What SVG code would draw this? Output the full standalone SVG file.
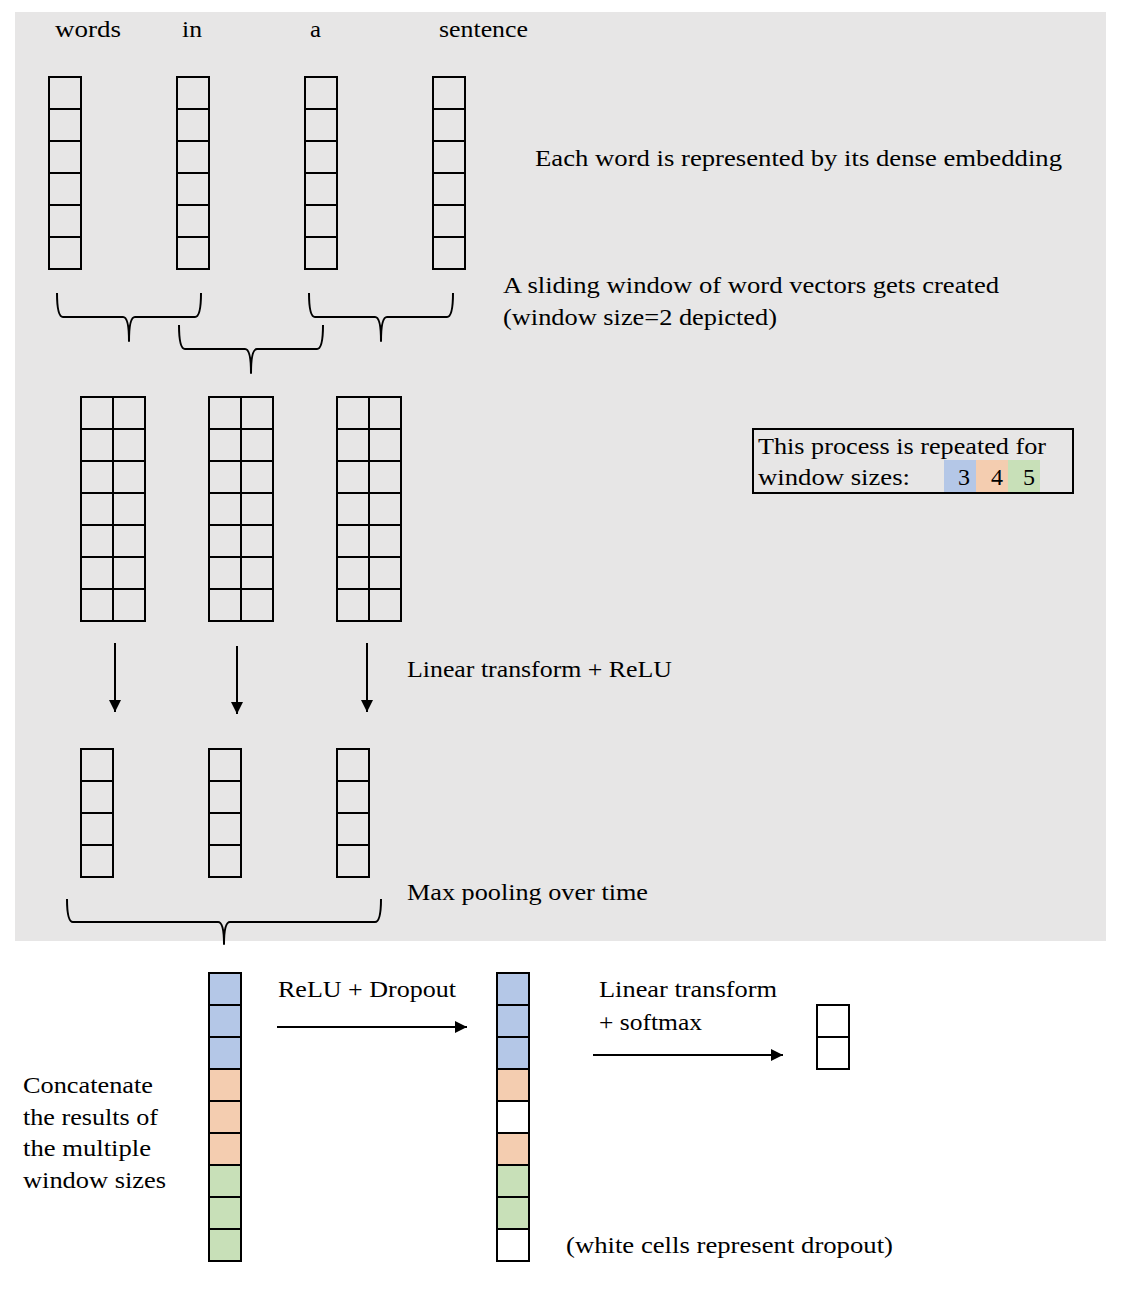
<svg xmlns="http://www.w3.org/2000/svg" width="1122" height="1304" viewBox="0 0 1122 1304">
<defs>
<style>
.t{font-family:"Liberation Serif","DejaVu Serif",serif;font-size:24px;fill:#000}
.c{fill:none;stroke:#000;stroke-width:2}
.b{fill:#b4c7e7;stroke:#000;stroke-width:2}
.o{fill:#f4cdb0;stroke:#000;stroke-width:2}
.g{fill:#c8e0b8;stroke:#000;stroke-width:2}
.w{fill:#fff;stroke:#000;stroke-width:2}
.br{fill:none;stroke:#000;stroke-width:2;stroke-linejoin:round}
.ar{fill:none;stroke:#000;stroke-width:2}
</style>
<marker id="ah" markerWidth="12" markerHeight="12" refX="12" refY="6" orient="auto" markerUnits="userSpaceOnUse">
<path d="M0,0 L12,6 L0,12 Z" fill="#000"/>
</marker>
<g id="col6">
<rect class="c" x="0" y="0" width="32" height="32"/>
<rect class="c" x="0" y="32" width="32" height="32"/>
<rect class="c" x="0" y="64" width="32" height="32"/>
<rect class="c" x="0" y="96" width="32" height="32"/>
<rect class="c" x="0" y="128" width="32" height="32"/>
<rect class="c" x="0" y="160" width="32" height="32"/>
</g>
<g id="col7">
<rect class="c" x="0" y="0" width="32" height="32"/>
<rect class="c" x="0" y="32" width="32" height="32"/>
<rect class="c" x="0" y="64" width="32" height="32"/>
<rect class="c" x="0" y="96" width="32" height="32"/>
<rect class="c" x="0" y="128" width="32" height="32"/>
<rect class="c" x="0" y="160" width="32" height="32"/>
<rect class="c" x="0" y="192" width="32" height="32"/>
</g>
<g id="col4">
<rect class="c" x="0" y="0" width="32" height="32"/>
<rect class="c" x="0" y="32" width="32" height="32"/>
<rect class="c" x="0" y="64" width="32" height="32"/>
<rect class="c" x="0" y="96" width="32" height="32"/>
</g>
</defs>

<rect id="background" x="15" y="12" width="1091" height="929" fill="#e7e6e6"/>

<g id="words">
<text class="t" x="55" y="37" textLength="66" lengthAdjust="spacingAndGlyphs">words</text>
<text class="t" x="182" y="37" textLength="20" lengthAdjust="spacingAndGlyphs">in</text>
<text class="t" x="310" y="37" textLength="11" lengthAdjust="spacingAndGlyphs">a</text>
<text class="t" x="439" y="37" textLength="89" lengthAdjust="spacingAndGlyphs">sentence</text>
</g>

<g id="embeddings">
<use href="#col6" x="49" y="77"/>
<use href="#col6" x="177" y="77"/>
<use href="#col6" x="305" y="77"/>
<use href="#col6" x="433" y="77"/>
</g>

<g id="label-embedding">
<text class="t" x="535" y="166" textLength="527" lengthAdjust="spacingAndGlyphs">Each word is represented by its dense embedding</text>
</g>

<g id="label-window">
<text class="t" x="503" y="293" textLength="496" lengthAdjust="spacingAndGlyphs">A sliding window of word vectors gets created</text>
<text class="t" x="503" y="325" textLength="274" lengthAdjust="spacingAndGlyphs">(window size=2 depicted)</text>
</g>

<g id="windows">
<use href="#col7" x="81" y="397"/>
<use href="#col7" x="113" y="397"/>
<use href="#col7" x="209" y="397"/>
<use href="#col7" x="241" y="397"/>
<use href="#col7" x="337" y="397"/>
<use href="#col7" x="369" y="397"/>
</g>

<g id="repeat-box">
<rect x="753" y="429" width="320" height="64" fill="none" stroke="#000" stroke-width="2"/>
<rect x="944" y="460" width="32" height="32" fill="#b4c7e7"/>
<rect x="976" y="460" width="32" height="32" fill="#f4cdb0"/>
<rect x="1008" y="460" width="32" height="32" fill="#c8e0b8"/>
<text class="t" x="758" y="454" textLength="288" lengthAdjust="spacingAndGlyphs">This process is repeated for</text>
<text class="t" x="758" y="485" textLength="152" lengthAdjust="spacingAndGlyphs">window sizes:</text>
<text class="t" x="970" y="485" text-anchor="end">3</text>
<text class="t" x="1003" y="485" text-anchor="end">4</text>
<text class="t" x="1035" y="485" text-anchor="end">5</text>
</g>

<g id="label-linear">
<text class="t" x="407" y="677" textLength="265" lengthAdjust="spacingAndGlyphs">Linear transform + ReLU</text>
</g>

<g id="features">
<use href="#col4" x="81" y="749"/>
<use href="#col4" x="209" y="749"/>
<use href="#col4" x="337" y="749"/>
</g>

<g id="label-pool">
<text class="t" x="407" y="900" textLength="241" lengthAdjust="spacingAndGlyphs">Max pooling over time</text>
</g>

<g id="concat">
<rect class="b" x="209" y="973" width="32" height="32"/>
<rect class="b" x="209" y="1005" width="32" height="32"/>
<rect class="b" x="209" y="1037" width="32" height="32"/>
<rect class="o" x="209" y="1069" width="32" height="32"/>
<rect class="o" x="209" y="1101" width="32" height="32"/>
<rect class="o" x="209" y="1133" width="32" height="32"/>
<rect class="g" x="209" y="1165" width="32" height="32"/>
<rect class="g" x="209" y="1197" width="32" height="32"/>
<rect class="g" x="209" y="1229" width="32" height="32"/>
</g>

<g id="label-concat">
<text class="t" x="23" y="1093" textLength="130" lengthAdjust="spacingAndGlyphs">Concatenate</text>
<text class="t" x="23" y="1125" textLength="135" lengthAdjust="spacingAndGlyphs">the results of</text>
<text class="t" x="23" y="1156" textLength="128" lengthAdjust="spacingAndGlyphs">the multiple</text>
<text class="t" x="23" y="1188" textLength="143" lengthAdjust="spacingAndGlyphs">window sizes</text>
</g>

<g id="label-dropout">
<text class="t" x="278" y="997" textLength="178" lengthAdjust="spacingAndGlyphs">ReLU + Dropout</text>
</g>

<g id="dropout">
<rect class="b" x="497" y="973" width="32" height="32"/>
<rect class="b" x="497" y="1005" width="32" height="32"/>
<rect class="b" x="497" y="1037" width="32" height="32"/>
<rect class="o" x="497" y="1069" width="32" height="32"/>
<rect class="w" x="497" y="1101" width="32" height="32"/>
<rect class="o" x="497" y="1133" width="32" height="32"/>
<rect class="g" x="497" y="1165" width="32" height="32"/>
<rect class="g" x="497" y="1197" width="32" height="32"/>
<rect class="w" x="497" y="1229" width="32" height="32"/>
</g>

<g id="label-white">
<text class="t" x="566" y="1253" textLength="327" lengthAdjust="spacingAndGlyphs">(white cells represent dropout)</text>
</g>

<g id="label-softmax">
<text class="t" x="599" y="997" textLength="178" lengthAdjust="spacingAndGlyphs">Linear transform</text>
<text class="t" x="599" y="1030" textLength="103" lengthAdjust="spacingAndGlyphs">+ softmax</text>
</g>

<g id="output">
<rect class="w" x="817" y="1005" width="32" height="32"/>
<rect class="w" x="817" y="1037" width="32" height="32"/>
</g>

<g id="connectors">
<path class="br" d="M57,293 Q57,317 63,317 L123,317 Q129,317 129,341 Q129,317 135,317 L195,317 Q201,317 201,293"/>
<path class="br" d="M179,325 Q179,349 185,349 L245,349 Q251,349 251,373 Q251,349 257,349 L317,349 Q323,349 323,325"/>
<path class="br" d="M309,293 Q309,317 315,317 L375,317 Q381,317 381,341 Q381,317 387,317 L447,317 Q453,317 453,293"/>
<path class="br" d="M67,899 Q67,922 73,922 L218,922 Q224,922 224,944 Q224,922 230,922 L375,922 Q381,922 381,899"/>
<line class="ar" x1="115" y1="643" x2="115" y2="712" marker-end="url(#ah)"/>
<line class="ar" x1="237" y1="646" x2="237" y2="714" marker-end="url(#ah)"/>
<line class="ar" x1="367" y1="643" x2="367" y2="712" marker-end="url(#ah)"/>
<line class="ar" x1="277" y1="1027" x2="467" y2="1027" marker-end="url(#ah)"/>
<line class="ar" x1="593" y1="1055" x2="783" y2="1055" marker-end="url(#ah)"/>
</g>
</svg>
